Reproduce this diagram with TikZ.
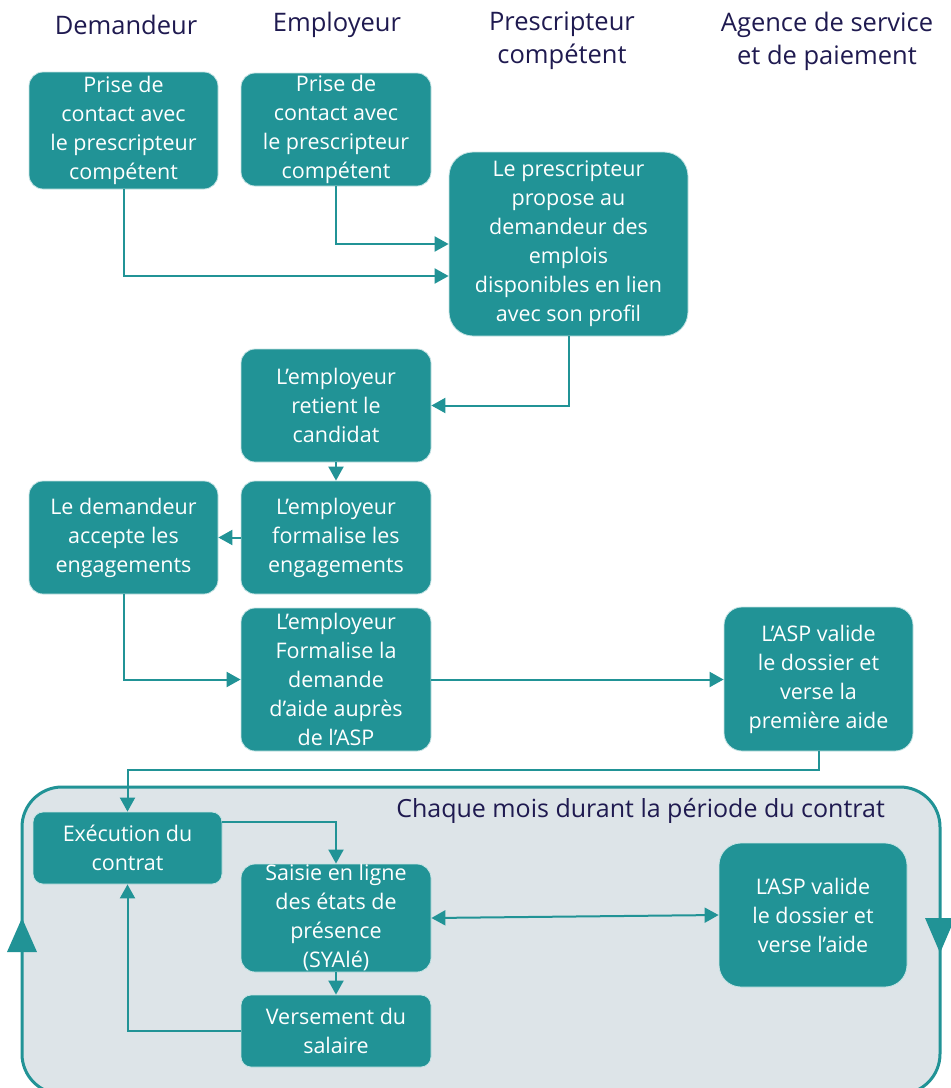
\documentclass[tikz,border=0pt]{standalone}
\usepackage{fontspec}
\setmainfont{Open Sans}
\usetikzlibrary{arrows.meta}
\definecolor{tealbox}{RGB}{33,147,150}
\definecolor{navy}{RGB}{31,26,80}
\definecolor{loopbg}{RGB}{221,228,232}
\begin{document}
\begin{tikzpicture}[x=1pt,y=-1pt,
  box/.style={fill=tealbox, draw=white!75!tealbox, line width=0.8pt, rounded corners=14pt,
    text=white, align=center, inner sep=0pt, font=\fontsize{21.5}{29}\selectfont},
  hdr/.style={text=navy, align=center, inner sep=0pt, font=\fontsize{25.5}{33}\selectfont},
  conn/.style={draw=tealbox, line width=2pt, -{Triangle[length=14pt,width=15pt]}},
  dconn/.style={draw=tealbox, line width=2pt, {Triangle[length=14pt,width=15pt]}-{Triangle[length=14pt,width=15pt]}},
  bigtip/.style={fill=tealbox, draw=none}]
\clip (0,0) rectangle (951,1088);
\fill[white] (0,0) rectangle (951,1088);

% headers
\node[hdr] (h1) at (126,25) {Demandeur};
\node[hdr] (h2) at (337,25) {Employeur};
\node[hdr] (h3) at (562,41) {Prescripteur\\compétent};
\node[hdr] (h4) at (827,41) {Agence de service\\et de paiement};

% loop background
\draw[draw=tealbox, fill=loopbg, line width=3pt, rounded corners=40pt] (22,787) rectangle (940,1094);
\fill[bigtip] (22,918) -- (37,952) -- (7,952) -- cycle;
\fill[bigtip] (940,953) -- (955,918) -- (925,918) -- cycle;
\node[text=navy, inner sep=0pt, font=\fontsize{25}{30}\selectfont, anchor=east] (loopt) at (885,811) {Chaque mois durant la période du contrat};

% boxes
\node[box, minimum width=189pt, minimum height=117pt] (a1) at (123.5,130.5) {Prise de\\contact avec\\le prescripteur\\compétent};
\node[box, minimum width=190pt, minimum height=113pt] (e1) at (336,129.5) {Prise de\\contact avec\\le prescripteur\\compétent};
\node[box, minimum width=239pt, minimum height=184pt, rounded corners=24pt] (p1) at (568.5,244) {Le prescripteur\\propose au\\demandeur des\\emplois\\disponibles en lien\\avec son profil};
\node[box, minimum width=190pt, minimum height=113pt] (e2) at (336,405.5) {L’employeur\\retient le\\candidat};
\node[box, minimum width=190pt, minimum height=113pt] (e3) at (336,537.5) {L’employeur\\formalise les\\engagements};
\node[box, minimum width=189pt, minimum height=113pt] (d2) at (123.5,537.5) {Le demandeur\\accepte les\\engagements};
\node[box, minimum width=190pt, minimum height=143pt] (e4) at (336,679.5) {L’employeur\\Formalise la\\demande\\d’aide auprès\\de l’ASP};
\node[box, minimum width=189pt, minimum height=144pt, rounded corners=18pt] (a2) at (818.5,679) {L’ASP valide\\le dossier et\\verse la\\première aide};
\node[box, minimum width=189pt, minimum height=72pt, rounded corners=10pt] (ex) at (127.5,848) {Exécution du\\contrat};
\node[box, minimum width=190pt, minimum height=108pt] (sa) at (336,918) {Saisie en ligne\\des états de\\présence\\(SYAlé)};
\node[box, minimum width=190pt, minimum height=72pt, rounded corners=10pt] (ve) at (336,1031) {Versement du\\salaire};
\node[box, minimum width=188pt, minimum height=144pt, rounded corners=22pt] (a3) at (813,915) {L’ASP valide\\le dossier et\\verse l’aide};

% connectors
\draw[conn] (a1.south) |- ([yshift=-32pt]p1.west);
\draw[conn] (e1.south) |- (p1.west);
\draw[conn] (p1.south) |- (e2.east);
\draw[conn] (e2.south) -- (e3.north);
\draw[conn] (e3.west) -- (d2.east);
\draw[conn] (d2.south) |- (e4.west);
\draw[conn] (e4.east) -- (e4.east -| a2.west);
\draw[conn] (a2.south) -- ++(0,19) -| (ex.north);
\draw[conn] ([yshift=26pt]ex.east) -| (sa.north);
\draw[conn] (sa.south) -- (ve.north);
\draw[conn] (ve.west) -| (ex.south);
\draw[dconn] (sa.east) -- (a3.west);
\end{tikzpicture}
\end{document}
